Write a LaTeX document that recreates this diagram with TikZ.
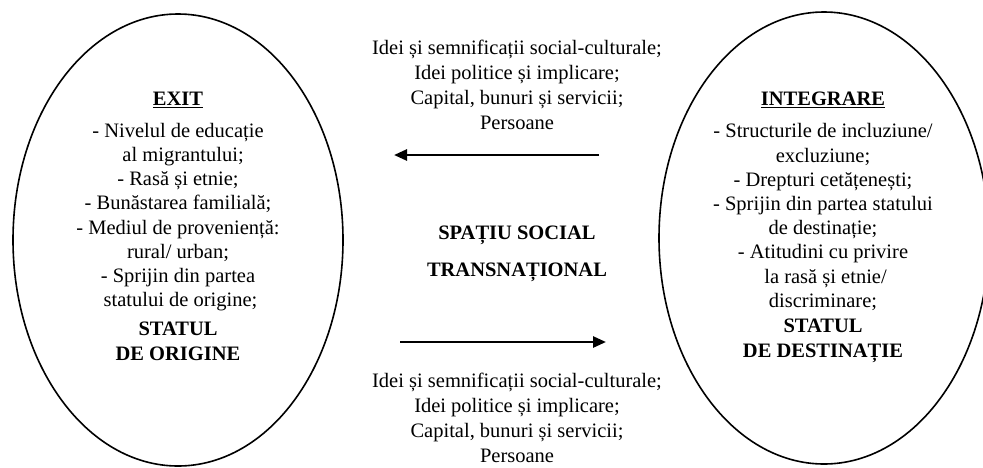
\documentclass[tikz,border=0pt]{standalone}
\usepackage{fontspec}
\setmainfont{Liberation Serif}
\usetikzlibrary{arrows.meta,shapes.geometric}
\begin{document}
\begin{tikzpicture}[x=1pt,y=-1pt,
  oval/.style={ellipse,draw,line width=1.6pt,minimum width=330pt,minimum height=452pt,inner sep=0pt},
  txt/.style={align=center,inner sep=0pt,font=\fontsize{20.5}{24.2}\selectfont},
  flow/.style={align=center,inner sep=0pt,font=\fontsize{20.5}{25}\selectfont},
  head/.style={align=center,inner sep=0pt,font=\fontsize{20.5}{25}\selectfont\bfseries},
  arr/.style={line width=2.6pt,-{Triangle[length=13pt,width=11pt]}}]
\useasboundingbox (0,0) rectangle (983,467);
\node[oval] (L) at (178,240) {};
\node[oval] (R) at (824,238) {};
\node[head] (exit) at (178,100) {\underline{EXIT}};
\node[txt] (llist) at (178,217) {- Nivelul de educație\\ \ \ al migrantului;\\- Rasă și etnie;\\- Bunăstarea familială;\\- Mediul de proveniență:\\rural/ urban;\\- Sprijin din partea\\ \ statului de origine;};
\node[head] (lfoot) at (178,341) {STATUL\\DE ORIGINE};
\node[head] (integ) at (823,100) {\underline{INTEGRARE}};
\node[txt] (rlist) at (823,217) {- Structurile de incluziune/\\excluziune;\\- Drepturi cetățenești;\\- Sprijin din partea statului\\de destinație;\\- Atitudini cu privire\\ \ la rasă și etnie/\\discriminare;};
\node[head] (rfoot) at (823,341) {STATUL\\DE DESTINAȚIE};
\node[flow] (top) at (517,85) {Idei și semnificații social-culturale;\\Idei politice și implicare;\\Capital, bunuri și servicii;\\Persoane};
\node[head] (sp1) at (517,235) {SPAȚIU SOCIAL};
\node[head] (sp2) at (517,272) {TRANSNAȚIONAL};
\node[flow] (bot) at (517,418) {Idei și semnificații social-culturale;\\Idei politice și implicare;\\Capital, bunuri și servicii;\\Persoane};
\coordinate (t1) at (599,155);
\coordinate (t2) at (394,155);
\coordinate (b1) at (400,342);
\coordinate (b2) at (606,342);
\draw[arr] (t1) -- (t2);
\draw[arr] (b1) -- (b2);
\end{tikzpicture}
\end{document}
